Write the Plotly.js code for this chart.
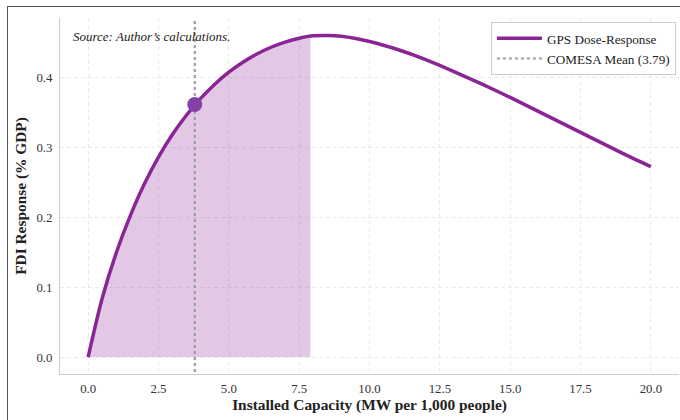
<!DOCTYPE html>
<html>
<head>
<meta charset="utf-8">
<script src="https://cdn.plot.ly/plotly-3.0.1.min.js"></script>
<style>
  html, body { margin: 0; padding: 0; background: #fff; }
  #wrap { position: relative; width: 680px; height: 420px; overflow: hidden; }
  #chart { position: absolute; left: 0; top: 0; width: 680px; height: 420px; }
  .frameTop { position: absolute; left: 8px; top: 6px; width: 672px; height: 0; border-top: 1.5px solid #555; }
  .frameLeft { position: absolute; left: 7px; top: 6px; width: 0; height: 414px; border-left: 1.5px solid #555; }
</style>
</head>
<body>
<div id="wrap">
  <div id="chart"></div>
  <div class="frameTop"></div>
  <div class="frameLeft"></div>
</div>
<script>
// Dose-response curve
const capacity = [0, 0.5, 1, 1.5, 2, 2.5, 3, 3.5, 4, 4.5, 5, 5.5, 6, 6.5, 7, 7.5, 8, 8.5, 9, 10, 11, 12, 13, 14, 15, 16, 17, 18, 19, 20];
const response = [0, 0.084, 0.149, 0.202, 0.2475, 0.2858, 0.3183, 0.3459, 0.3696, 0.3898, 0.407, 0.4213, 0.4331, 0.4427, 0.4501, 0.4555, 0.459, 0.4596, 0.4585, 0.451, 0.4395, 0.425, 0.408, 0.390, 0.371, 0.351, 0.331, 0.311, 0.291, 0.272];

// Shaded region extends to this capacity
const shadeEnd = 7.9;
const shadeEndResponse = 0.4584;
// COMESA mean
const meanCapacity = 3.79;
const meanResponse = 0.361;

const xTicks = [0, 2.5, 5, 7.5, 10, 12.5, 15, 17.5, 20];
const yTicks = [0, 0.1, 0.2, 0.3, 0.4];

const shadeX = [], shadeY = [];
for (let i = 0; i < capacity.length; i++) {
  if (capacity[i] < shadeEnd) { shadeX.push(capacity[i]); shadeY.push(response[i]); }
}
shadeX.push(shadeEnd); shadeY.push(shadeEndResponse);

const purple = '#8a2596';
const fontFam = '"Liberation Serif", "Times New Roman", serif';

const traces = [
  {
    x: shadeX, y: shadeY, type: 'scatter', mode: 'lines',
    fill: 'tozeroy', fillcolor: 'rgba(142,42,154,0.26)',
    line: { color: 'rgba(142,42,154,0.35)', width: 1, shape: 'spline', smoothing: 0.8 },
    showlegend: false, hoverinfo: 'skip'
  },
  {
    x: [meanCapacity, meanCapacity], y: [-0.03, 0.5], type: 'scatter', mode: 'lines',
    name: 'COMESA Mean (3.79)',
    line: { color: '#9d9d9d', width: 2.2, dash: 'dot' }
  },
  {
    x: capacity, y: response, type: 'scatter', mode: 'lines',
    name: 'GPS Dose-Response',
    line: { color: purple, width: 3.5, shape: 'spline', smoothing: 0.8 }
  },
  {
    x: [meanCapacity], y: [meanResponse], type: 'scatter', mode: 'markers',
    marker: { color: '#8442a6', size: 15 },
    showlegend: false
  }
];

const layout = {
  width: 680, height: 420,
  margin: { l: 60, r: 1, t: 18, b: 46 },
  paper_bgcolor: '#ffffff', plot_bgcolor: '#ffffff',
  font: { family: fontFam, size: 12, color: '#333' },
  showlegend: true,
  legend: {
    x: 0.995, y: 0.988, xanchor: 'right', yanchor: 'top',
    bgcolor: '#ffffff', bordercolor: '#cccccc', borderwidth: 1,
    font: { family: fontFam, size: 13.2, color: '#222' },
    traceorder: 'reversed', itemwidth: 45
  },
  xaxis: {
    range: [-1, 21],
    tickvals: xTicks, tickformat: '.1f',
    showgrid: true, gridcolor: '#e9e9e9', griddash: '4px,3px', gridwidth: 1,
    zeroline: false, showline: true, linecolor: '#cccccc', linewidth: 1,
    ticks: 'outside', ticklen: 3, tickcolor: '#ffffff',
    tickfont: { family: fontFam, size: 12.8, color: '#333' },
    title: { text: '<b>Installed Capacity (MW per 1,000 people)</b>', font: { family: fontFam, size: 15.4, color: '#222' }, standoff: 3 }
  },
  yaxis: {
    range: [-0.0242, 0.4845],
    tickvals: yTicks, tickformat: '.1f',
    showgrid: true, gridcolor: '#e9e9e9', griddash: '4px,3px', gridwidth: 1,
    zeroline: false, showline: true, linecolor: '#cccccc', linewidth: 1,
    ticks: 'outside', ticklen: 4, tickcolor: '#ffffff',
    tickfont: { family: fontFam, size: 12.8, color: '#333' },
    title: { text: '<b>FDI Response (% GDP)</b>', font: { family: fontFam, size: 15.4, color: '#222' }, standoff: 6 }
  },
  annotations: [
    {
      xref: 'paper', yref: 'paper', x: 0.018, y: 0.975, xanchor: 'left', yanchor: 'top',
      text: '<i>Source: Author\u2019s calculations.</i>', showarrow: false,
      font: { family: fontFam, size: 13, color: '#222' }
    }
  ]
};

Plotly.newPlot('chart', traces, layout, { displayModeBar: false, staticPlot: true });
</script>
</body>
</html>
